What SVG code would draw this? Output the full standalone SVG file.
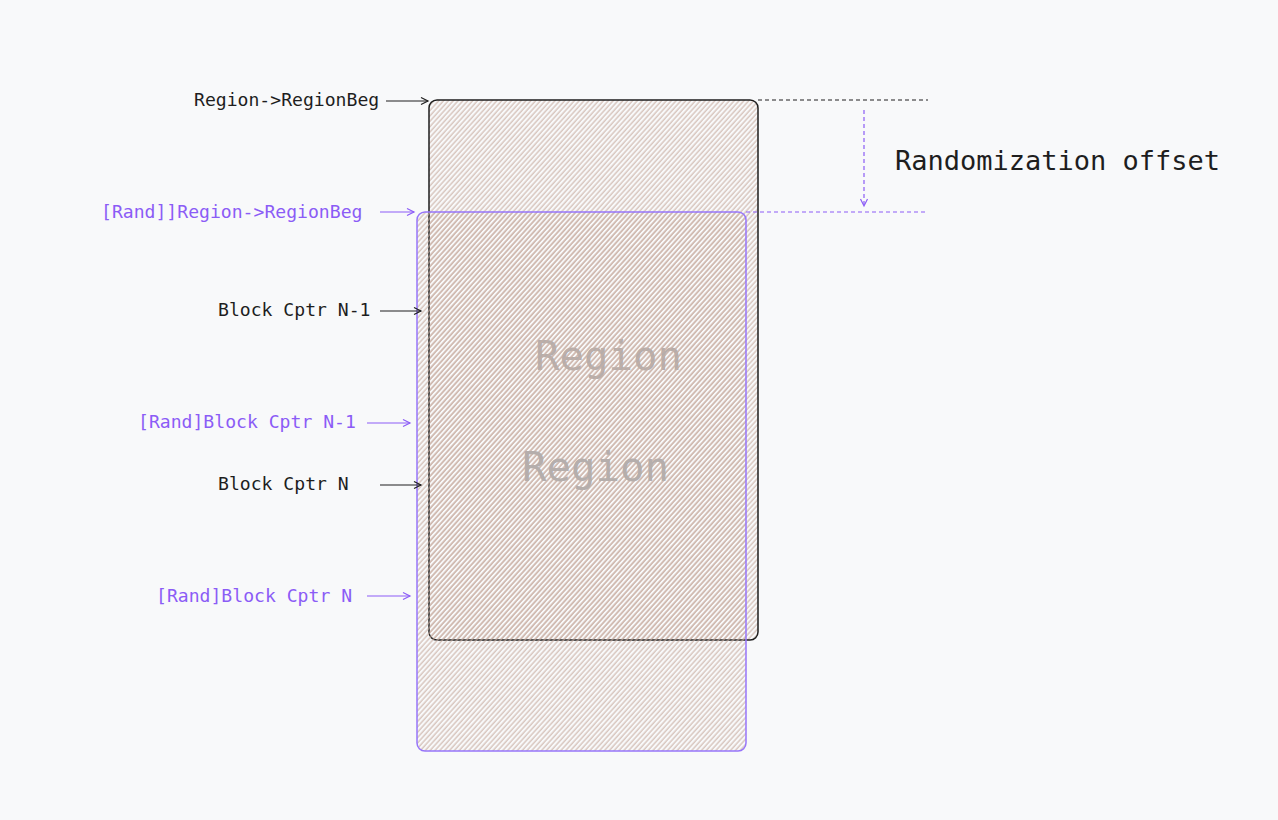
<svg xmlns="http://www.w3.org/2000/svg" width="1278" height="820" viewBox="0 0 1278 820">
<style>
.t{font-family:"DejaVu Sans Mono","Liberation Mono",monospace;font-size:18.1px;}
.k{fill:#1e1e1e;}
.p{fill:#8b5cf6;}
.big{font-family:"DejaVu Sans Mono","Liberation Mono",monospace;font-size:27px;fill:#1e1e1e;}
.reg{font-family:"DejaVu Sans Mono","Liberation Mono",monospace;font-size:40.7px;fill:#b5aeac;}
.ak{stroke:#1e1e1e;stroke-width:1.2;fill:none;marker-end:url(#mk);}
.ap{stroke:#8b5cf6;stroke-width:1.2;fill:none;marker-end:url(#mp);}
</style>
<defs>
<pattern id="hatch" width="3.6" height="10" patternUnits="userSpaceOnUse" patternTransform="rotate(42)">
<line x1="1" y1="0" x2="1" y2="10" stroke="#c9ada2" stroke-width="1"/>
</pattern>
<marker id="mk" markerWidth="10" markerHeight="10" refX="8" refY="5" orient="auto" markerUnits="userSpaceOnUse">
<path d="M1,1.5 L8,5 L1,8.5" fill="none" stroke="#1e1e1e" stroke-width="1.2"/>
</marker>
<marker id="mp" markerWidth="10" markerHeight="10" refX="8" refY="5" orient="auto" markerUnits="userSpaceOnUse">
<path d="M1,1.5 L8,5 L1,8.5" fill="none" stroke="#8b5cf6" stroke-width="1.2"/>
</marker>
</defs>
<rect width="1278" height="820" fill="#f8f9fa"/>
<g id="region">
<rect x="429" y="100" width="329" height="540" rx="8" fill="url(#hatch)" stroke="#1e1e1e" stroke-width="1.5"/>
<text class="reg" x="535" y="370">Region</text>
</g>
<g id="rand-region">
<rect x="417" y="212" width="329" height="539" rx="8" fill="url(#hatch)" stroke="#9775fa" stroke-width="1.5"/>
<text class="reg" x="522" y="481">Region</text>
</g>
<g id="labels">
<text class="t k" x="194" y="106">Region-&gt;RegionBeg</text>
<text class="t p" x="101" y="218">[Rand]]Region-&gt;RegionBeg</text>
<text class="t k" x="218" y="316">Block Cptr N-1</text>
<text class="t p" x="138" y="428">[Rand]Block Cptr N-1</text>
<text class="t k" x="218" y="490">Block Cptr N</text>
<text class="t p" x="156" y="602">[Rand]Block Cptr N</text>
<text class="big" x="895" y="170">Randomization offset</text>
</g>
<g id="connectors">
<line class="ak" x1="386" y1="101" x2="428" y2="101"/>
<line class="ap" x1="380" y1="212" x2="414" y2="212"/>
<line class="ak" x1="380" y1="311" x2="421" y2="311"/>
<line class="ap" x1="367" y1="423" x2="410" y2="423"/>
<line class="ak" x1="380" y1="485" x2="421" y2="485"/>
<line class="ap" x1="367" y1="596" x2="410" y2="596"/>
<line x1="758" y1="100" x2="928" y2="100" stroke="#1e1e1e" stroke-width="1.2" stroke-dasharray="4,3"/>
<line x1="746" y1="212" x2="928" y2="212" stroke="#8b5cf6" stroke-width="1.2" stroke-dasharray="4,3"/>
<line x1="864" y1="110" x2="864" y2="206" stroke="#8b5cf6" stroke-width="1.2" stroke-dasharray="4,3" marker-end="url(#mp)"/>
</g>
</svg>
